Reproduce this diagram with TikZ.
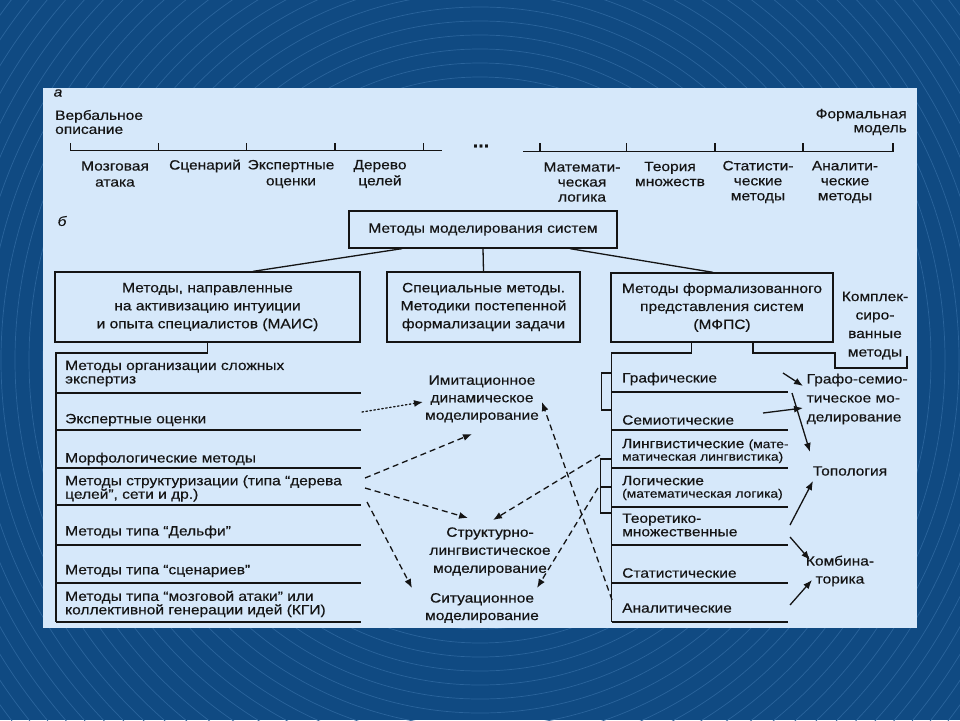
\documentclass[tikz,border=0pt]{standalone}
\usepackage{fontspec}
\setmainfont{Liberation Sans}[FakeStretch=1.15,FakeBold=0.35]
\usetikzlibrary{arrows.meta}
\definecolor{bgc}{RGB}{16,74,130}
\definecolor{ringc}{RGB}{42,100,156}
\definecolor{panelc}{RGB}{214,232,250}
\definecolor{ink}{RGB}{20,20,20}
\begin{document}
\begin{tikzpicture}[x=1pt,y=-1pt,
  ln/.style={draw=ink,line width=1.3pt},
  txt/.style={inner sep=0pt,text=ink,font=\fontsize{13.5}{15}\selectfont},
  boxn/.style={txt,draw=ink,line width=1.3pt,align=center,font=\fontsize{13.5}{18}\selectfont},
  itm/.style={txt,anchor=west,align=left,font=\fontsize{13.5}{13.5}\selectfont},
  sarr/.style={draw=ink,line width=1.3pt,-{Latex[length=9pt,width=7pt]}},
  darr/.style={sarr,dash pattern=on 6pt off 4pt},
  dotarr/.style={sarr,dash pattern=on 1.5pt off 2.5pt,line cap=round}]
\useasboundingbox (0,0) rectangle (960,720);
% background
\fill[bgc] (0,0) rectangle (960,720);
\begin{scope}
\clip (0,0) rectangle (960,720);
\foreach \r in {3,17,...,650} \draw[ringc,line width=0.7pt] (480,360) circle[radius=\r pt];
\end{scope}
\fill[panelc] (43,88) rectangle (917,628);

% ---------- part a ----------
\node[txt,anchor=center] (la) at (58,93) {\itshape а};
\node[txt,anchor=west,align=left,font=\fontsize{13.5}{14}\selectfont] (verb) at (55,122) {Вербальное\\описание};
\node[txt,anchor=east,align=right,font=\fontsize{13.5}{14}\selectfont] (formal) at (907,122) {Формальная\\модель};
\draw[ln] (70.7,143) -- (70.7,150.7) -- (441.7,150.7);
\foreach \x in {158.3,246.7,335,423.3} \draw[ln] (\x,143) -- (\x,150.7);
\node[txt,font=\fontsize{17}{17}\selectfont\bfseries] (dots) at (481,146) {...};
\draw[ln] (523,151.7) -- (893,151.7) -- (893,143);
\foreach \x in {540,626.7,715,803} \draw[ln] (\x,143) -- (\x,151.7);
\begin{scope}[every node/.style={txt,align=center,font=\fontsize{13.5}{16}\selectfont}]
\node (s1) at (115,174) {Мозговая\\атака};
\node (s2) at (205,166) {Сценарий};
\node (s3) at (291,174) {Экспертные\\оценки};
\node (s4) at (380,174) {Дерево\\целей};
\end{scope}
\begin{scope}[every node/.style={txt,align=center,font=\fontsize{13.5}{15}\selectfont}]
\node (s5) at (582,182) {Математи-\\ческая\\логика};
\node (s6) at (670,174) {Теория\\множеств};
\node (s7) at (758,182) {Статисти-\\ческие\\методы};
\node (s8) at (845,182) {Аналити-\\ческие\\методы};
\end{scope}

% ---------- part b ----------
\node[txt] (lb) at (62,221) {\itshape б};
\node[boxn,minimum width=268pt,minimum height=37pt] (top) at (483,229.5) {Методы моделирования систем};
\node[boxn,minimum width=305pt,minimum height=70pt] (mais) at (207.5,307) {Методы, направленные\\на активизацию интуиции\\и опыта специалистов (МАИС)};
\node[boxn,minimum width=193pt,minimum height=70pt] (spec) at (483.5,307) {Специальные методы.\\Методики постепенной\\формализации задачи};
\node[boxn,minimum width=222pt,minimum height=69pt] (mfps) at (722,307.5) {Методы формализованного\\представления систем\\(МФПС)};
\node[txt,align=center,font=\fontsize{13.5}{18.5}\selectfont] (kompl) at (875,325.5) {Комплек-\\сиро-\\ванные\\методы};

\draw[ln] ([xshift=-81pt]top.south) -- ([xshift=45.5pt]mais.north);
\draw[ln] (top.south) -- (spec.north);
\draw[ln] ([xshift=87pt]top.south) -- ([xshift=-9pt]mfps.north);

% left list
\coordinate (L0) at (56,353);
\coordinate (Lb) at (56,622);
\draw[ln] (mais.south) |- (L0) -- (Lb);
\foreach \y in {393,430,468,505,545,583,622} \draw[ln] (56,\y) -- (361,\y);
\node[itm] (i1) at (65,373.5) {Методы организации сложных\\экспертиз};
\node[itm] (i2) at (65,420) {Экспертные оценки};
\node[itm] (i3) at (65,459) {Морфологические методы};
\node[itm] (i4) at (65,488.5) {Методы структуризации (типа “дерева\\целей”, сети и др.)};
\node[itm] (i5) at (65,532) {Методы типа “Дельфи”};
\node[itm] (i6) at (65,571) {Методы типа “сценариев”};
\node[itm] (i7) at (65,604) {Методы типа “мозговой атаки” или\\коллективной генерации идей (КГИ)};

% middle
\node[txt,align=center,font=\fontsize{13.5}{17.5}\selectfont] (imit) at (482,399) {Имитационное\\динамическое\\моделирование};
\node[txt,align=center,font=\fontsize{13.5}{18}\selectfont] (struct) at (490,551.5) {Структурно-\\лингвистическое\\моделирование};
\node[txt,align=center,font=\fontsize{13.5}{17.5}\selectfont] (situ) at (482,608) {Ситуационное\\моделирование};

% right list
\coordinate (R0) at (611.7,353);
\coordinate (Rb) at (611.7,622);
\draw[ln] ([xshift=-30.3pt]mfps.south) |- (R0) -- (Rb);
\coordinate (K1) at (835,353);
\coordinate (K2) at (907,368);
\draw[ln] ([xshift=31pt]mfps.south) |- (K1) |- (K2) -- ++(0,-12);
\foreach \y in {392,430,468,507,545,583,622} \draw[ln] (611.7,\y) -- (788,\y);
\draw[ln] (611.7,373) -- (601.7,373) -- (601.7,410) -- (611.7,410);
\draw[ln] (611.7,459) -- (600.7,459) -- (600.7,513) -- (611.7,513);
\draw[ln] (600.7,487) -- (611.7,487);
\node[itm] (r1) at (622,379) {Графические};
\node[itm] (r2) at (622,420) {Семиотические};
\node[itm,font=\fontsize{13.5}{12.5}\selectfont] (r3) at (622,451) {Лингвистические {\fontsize{12}{12}\selectfont(мате-}\\{\fontsize{12}{12}\selectfont матическая лингвистика)}};
\node[itm,font=\fontsize{13.5}{12.5}\selectfont] (r4) at (622,488) {Логические\\{\fontsize{12}{12}\selectfont(математическая логика)}};
\node[itm] (r5) at (622,525) {Теоретико-\\множественные};
\node[itm] (r6) at (622,573) {Статистические};
\node[itm] (r7) at (622,608) {Аналитические};

\node[txt,anchor=west,align=left,font=\fontsize{13.5}{19}\selectfont] (graf) at (806.5,399) {Графо-семио-\\тическое мо-\\делирование};
\node[txt] (topo) at (850,471) {Топология};
\node[txt,align=center,font=\fontsize{13.5}{18}\selectfont] (komb) at (840,571) {Комбина-\\торика};

% solid arrows
\coordinate (a1s) at (783,373); \coordinate (a1e) at (803,386);
\coordinate (a2s) at (763,413); \coordinate (a2e) at (803,408);
\coordinate (a3s) at (792,393); \coordinate (a3e) at (810,452);
\coordinate (a4s) at (790,525); \coordinate (a4e) at (813,481);
\coordinate (a5s) at (790,537); \coordinate (a5e) at (810,560);
\coordinate (a6s) at (790,605); \coordinate (a6e) at (812,580);
\foreach \i in {1,...,6} \draw[sarr] (a\i s) -- (a\i e);

% dashed arrows
\coordinate (d1s) at (362,412); \coordinate (d1e) at (423,402);
\coordinate (d2s) at (365,478); \coordinate (d2e) at (472,434);
\coordinate (d3s) at (365,488); \coordinate (d3e) at (468,518);
\coordinate (d4s) at (367,502); \coordinate (d4e) at (412,588);
\coordinate (d5s) at (600,455); \coordinate (d5e) at (493,520);
\coordinate (d6s) at (598,488); \coordinate (d6e) at (537,588);
\coordinate (d7s) at (612,600); \coordinate (d7e) at (542,402);
\draw[dotarr] (d1s) -- (d1e);
\foreach \i in {2,...,7} \draw[darr] (d\i s) -- (d\i e);
\end{tikzpicture}
\end{document}
